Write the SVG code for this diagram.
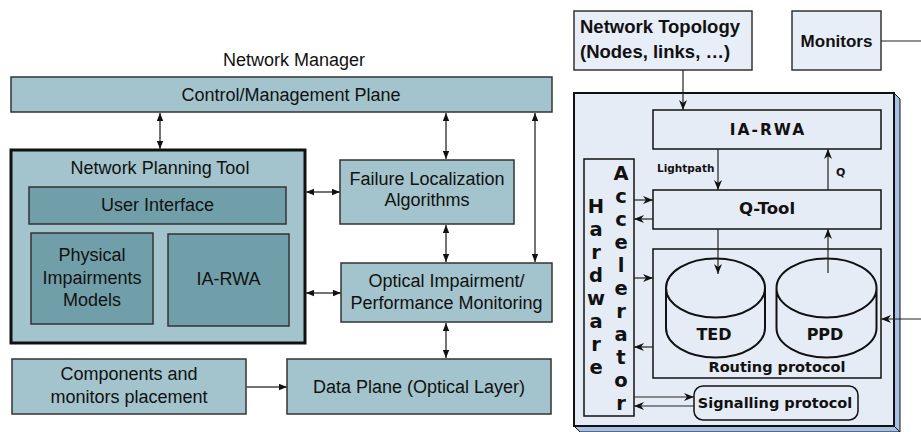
<svg xmlns="http://www.w3.org/2000/svg" width="921" height="432" viewBox="0 0 921 432">
<defs>
<style>
.lt{fill:#a3c4cc;stroke:#333;stroke-width:1.5}
.dk{fill:#719fa9;stroke:#333;stroke-width:1.5}
.t{font-family:"Liberation Sans",Arial,sans-serif;font-size:18px;fill:#111;text-anchor:middle}
.rb{fill:#e6ecf6;stroke:#111;stroke-width:1.5}
.b{font-family:"DejaVu Sans",sans-serif;font-weight:bold;fill:#111;text-anchor:middle}
.bs{font-family:"DejaVu Sans",sans-serif;font-weight:bold;fill:#111}
.ab{font-family:"Liberation Sans",Arial,sans-serif;font-weight:bold;fill:#111}
.cl{fill:none;stroke:#444;stroke-width:1.5}
.cr{fill:none;stroke:#222;stroke-width:1.2}
.cyl{fill:#e6ecf6;stroke:#111;stroke-width:2}
</style>
<marker id="ah" viewBox="0 0 10 8" refX="10" refY="4" markerWidth="8" markerHeight="7" markerUnits="userSpaceOnUse" orient="auto-start-reverse"><path d="M0,0 L10,4 L0,8 z" fill="#111"/></marker>
<marker id="av" viewBox="0 0 10 8" refX="10" refY="4" markerWidth="10" markerHeight="8" markerUnits="userSpaceOnUse" orient="auto"><path d="M0,0 L10,4 L0,8 L3,4 z" fill="#111"/></marker>
</defs>
<rect width="921" height="432" fill="#fff"/>

<text class="t" x="294" y="66">Network Manager</text>

<g id="cmp"><rect class="lt" x="11" y="77" width="541" height="35"/><text class="t" x="291" y="101">Control/Management Plane</text></g>

<g id="npt">
<rect class="lt" x="11" y="150" width="294" height="193" style="stroke:#111;stroke-width:3"/>
<text class="t" x="160" y="174">Network Planning Tool</text>
</g>
<g id="ui"><rect class="dk" x="29" y="187" width="257" height="37"/><text class="t" x="157.5" y="211">User Interface</text></g>
<g id="pim"><rect class="dk" x="31" y="233" width="122" height="91"/><text class="t" x="92" y="261">Physical</text><text class="t" x="92" y="284">Impairments</text><text class="t" x="92" y="306">Models</text></g>
<g id="iarwa-l"><rect class="dk" x="168" y="234" width="121" height="92"/><text class="t" x="228.5" y="285">IA-RWA</text></g>

<g id="fla"><rect class="lt" x="340" y="160" width="174" height="64"/><text class="t" x="427" y="185">Failure Localization</text><text class="t" x="427" y="206">Algorithms</text></g>
<g id="oipm"><rect class="lt" x="341" y="263" width="211" height="59"/><text class="t" x="446.5" y="287">Optical Impairment/</text><text class="t" x="446.5" y="309">Performance Monitoring</text></g>
<g id="cmpl"><rect class="lt" x="12" y="359" width="234" height="55"/><text class="t" x="129" y="380">Components and</text><text class="t" x="129" y="403">monitors placement</text></g>
<g id="dp"><rect class="lt" x="287" y="359" width="264" height="55"/><text class="t" x="419" y="393">Data Plane (Optical Layer)</text></g>

<g id="topo"><rect x="574" y="11" width="178" height="59" fill="#e8eef8" stroke="#333" stroke-width="1.5"/>
<text class="ab" x="580" y="33" font-size="18.5">Network Topology</text><text class="ab" x="580" y="58" font-size="18.5">(Nodes, links, …)</text></g>
<g id="mon"><rect x="792" y="11" width="89" height="59" fill="#e8eef8" stroke="#333" stroke-width="1.5"/>
<text class="ab" x="836.5" y="47" font-size="17" text-anchor="middle">Monitors</text></g>

<g id="node-box">
<polygon points="894,93 900,99 900,432 894,426" fill="#a9c0e6" stroke="#111" stroke-width="1"/>
<polygon points="574,426 894,426 900,432 580,432" fill="#a9c0e6" stroke="#111" stroke-width="1"/>
<rect x="574" y="93" width="320" height="333" fill="#e6ecf6" stroke="#111" stroke-width="2"/>
</g>
<g id="iarwa-r"><rect class="rb" x="653" y="110" width="228" height="39"/><text class="b" x="768" y="135" font-size="15.5" letter-spacing="2">IA-RWA</text></g>
<g id="qtool"><rect class="rb" x="653" y="190" width="228" height="39"/><text class="b" x="767" y="214" font-size="16.5">Q-Tool</text></g>
<g id="routing"><rect class="rb" x="653" y="249" width="228" height="129"/><text class="b" x="777" y="372" font-size="14.5">Routing protocol</text></g>
<g id="ted"><path class="cyl" d="M666,288 A49.5,29.5 0 0 1 765,288 L765,328 A49.5,29.5 0 0 1 666,328 Z M666,288 A49.5,29.5 0 0 0 765,288"/><text class="b" x="714" y="340" font-size="16">TED</text></g>
<g id="ppd"><path class="cyl" d="M776.5,288 A50,29.5 0 0 1 876.5,288 L876.5,328 A50,29.5 0 0 1 776.5,328 Z M776.5,288 A50,29.5 0 0 0 876.5,288"/><text class="b" x="825" y="340" font-size="16">PPD</text></g>
<g id="signal"><rect class="rb" x="694" y="386" width="164" height="34" rx="9"/><text class="b" x="775" y="408" font-size="14.5">Signalling protocol</text></g>
<g id="hwacc"><rect class="rb" x="584" y="159" width="50" height="257"/>
<g class="b" font-size="19.5">
<text x="596" y="213">H</text><text x="596" y="236">a</text><text x="596" y="259">r</text><text x="596" y="282">d</text><text x="596" y="305">w</text><text x="596" y="328">a</text><text x="596" y="351">r</text><text x="596" y="374">e</text>
<text x="621" y="180">A</text><text x="621" y="203">c</text><text x="621" y="226">c</text><text x="621" y="249">e</text><text x="621" y="272">l</text><text x="621" y="295">e</text><text x="621" y="318">r</text><text x="621" y="341">a</text><text x="621" y="364">t</text><text x="621" y="387">o</text><text x="621" y="410">r</text>
</g></g>
<text class="bs" x="657" y="172" font-size="10.5">Lightpath</text>
<text class="bs" x="836" y="176" font-size="11">Q</text>

<g id="connectors">
<g class="cl" marker-end="url(#ah)" marker-start="url(#ah)">
<line x1="160" y1="113" x2="160" y2="149"/>
<line x1="446" y1="113" x2="446" y2="159"/>
<line x1="535" y1="113" x2="535" y2="262"/>
<line x1="306" y1="192" x2="340" y2="192"/>
<line x1="306" y1="293" x2="341" y2="293"/>
<line x1="446" y1="225" x2="446" y2="262"/>
<line x1="446" y1="323" x2="446" y2="358"/>
</g>
<line class="cl" x1="246" y1="387" x2="287" y2="387" marker-end="url(#ah)"/>
<g class="cr" marker-end="url(#av)">
<line x1="683" y1="70" x2="683" y2="110"/>
<line x1="718" y1="149" x2="718" y2="190"/>
<line x1="828" y1="190" x2="828" y2="149"/>
<line x1="634" y1="200" x2="653" y2="200"/>
<line x1="653" y1="219" x2="634" y2="219"/>
<line x1="718" y1="229" x2="718" y2="274"/>
<line x1="828" y1="273" x2="828" y2="229"/>
<line x1="634" y1="278" x2="653" y2="278"/>
<line x1="653" y1="347" x2="634" y2="347"/>
<line x1="634" y1="397" x2="694" y2="397"/>
<line x1="694" y1="406" x2="634" y2="406"/>
<line x1="921" y1="319" x2="881" y2="319"/>
</g>
<line class="cr" x1="881" y1="41" x2="921" y2="41"/>
</g>
</svg>
